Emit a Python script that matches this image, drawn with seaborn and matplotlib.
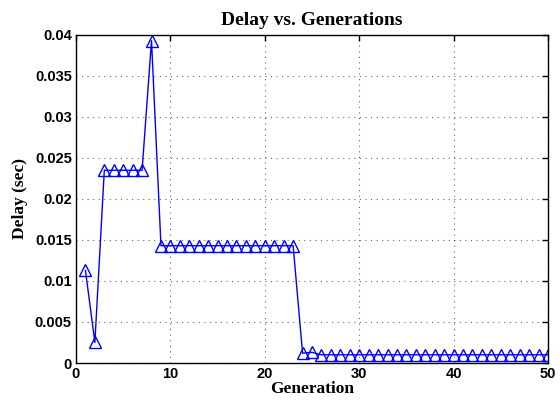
import numpy as np
import pandas as pd
import matplotlib
matplotlib.use("Agg")
import matplotlib.pyplot as plt
import seaborn as sns

# Per-generation delay values
generations = list(range(1, 51))
delay = ([0.0113, 0.0025]
         + [0.0235] * 5
         + [0.0393]
         + [0.0143] * 15
         + [0.0012, 0.0013]
         + [0.0010] * 25)

x_ticks = [0, 10, 20, 30, 40, 50]
y_ticks = [0, 0.005, 0.01, 0.015, 0.02, 0.025, 0.03, 0.035, 0.04]
y_tick_labels = ["0", "0.005", "0.01", "0.015", "0.02", "0.025", "0.03", "0.035", "0.04"]

df = pd.DataFrame({"Generation": generations, "Delay": delay})

sns.set_theme(style="white")
plt.rcParams["font.family"] = ["Liberation Sans", "DejaVu Sans"]
plt.rcParams["text.color"] = "black"
plt.rcParams["axes.labelcolor"] = "black"

fig = plt.figure(figsize=(5.6, 4.05), dpi=100)
ax = fig.add_axes([0.1357, 0.1037, 0.8429, 0.81])

sns.lineplot(data=df, x="Generation", y="Delay", ax=ax, color="#0000ff",
             linewidth=1.0, marker="^", markersize=8.5, markerfacecolor="none",
             markeredgecolor="#0000ff", markeredgewidth=1.0)

ax.set_xlim(0, 50)
ax.set_ylim(0, 0.04)
ax.set_xticks(x_ticks)
ax.set_xticklabels([str(t) for t in x_ticks])
ax.set_yticks(y_ticks)
ax.set_yticklabels(y_tick_labels)

ax.grid(True, linestyle=(0, (1, 4)), color="black", linewidth=0.8, alpha=0.6)
for s in ax.spines.values():
    s.set_visible(True)
    s.set_color("black")
    s.set_linewidth(1.0)

ax.tick_params(direction="in", length=4, width=1, colors="black",
               labelsize=10.5, pad=3, top=True, right=True)
for lbl in ax.get_xticklabels() + ax.get_yticklabels():
    lbl.set_fontweight("bold")
    lbl.set_family(["Liberation Sans", "DejaVu Sans"])

ax.set_title("Delay vs. Generations", fontsize=14, fontweight="bold",
             family=["Liberation Serif", "DejaVu Serif"], pad=7, color="black")
ax.set_xlabel("Generation", fontsize=12.5, fontweight="bold",
              family=["Liberation Serif", "DejaVu Serif"], labelpad=0, color="black")
ax.set_ylabel("Delay (sec)", fontsize=12.5, fontweight="bold",
              family=["Liberation Serif", "DejaVu Serif"], labelpad=5, color="black")

fig.savefig("out.png", dpi=100, facecolor="white")
